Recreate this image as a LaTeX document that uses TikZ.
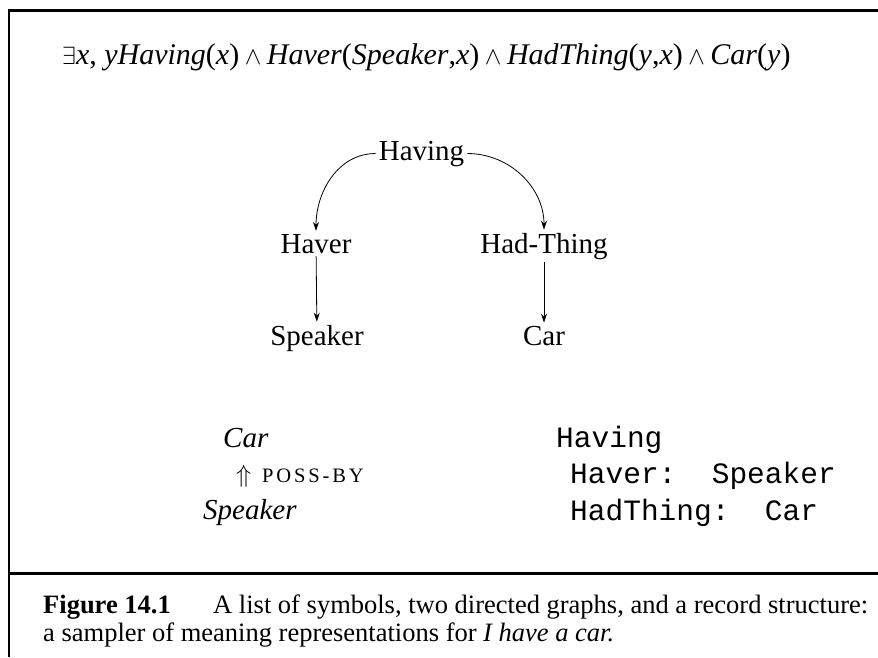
\documentclass[tikz,border=0pt]{standalone}
\usepackage{fontspec}
\setmainfont{Liberation Serif}
\setmonofont{Liberation Mono}
\usetikzlibrary{arrows.meta}
\newcommand{\gfont}{\fontsize{29}{35}\selectfont}
\newcommand{\folfont}{\fontsize{30}{36}\selectfont}
\newcommand{\capfont}{\fontsize{26.5}{30}\selectfont}
\newcommand{\recfont}{\fontsize{29.5}{34}\ttfamily\selectfont}
\newcommand{\andsym}{${}\wedge{}$}
\begin{document}
\begin{tikzpicture}[x=1pt,y=-1pt,
  gn/.style={font=\gfont, anchor=base, inner sep=3pt},
  txt/.style={font=\gfont, anchor=base west, inner sep=0pt},
  rec/.style={font=\recfont, anchor=base west, inner sep=0pt},
  captext/.style={font=\capfont, anchor=base west, inner sep=0pt},
  arr/.style={-{Stealth[length=9pt,width=6pt]}, line width=0.8pt},
  frame/.style={line width=2.4pt}]
\useasboundingbox (0,0) rectangle (878,657);
% frame
\draw[frame] (9,657) -- (9,10.3) -- (878,10.3);
\draw[frame] (9,573.3) -- (878,573.3);
% formula
\node[txt, font=\folfont] (fol) at (62,64) {$\exists$\textit{x}, \textit{yHaving}(\textit{x})\andsym\textit{Haver}(\textit{Speaker},\textit{x})\andsym\textit{HadThing}(\textit{y},\textit{x})\andsym\textit{Car}(\textit{y})};
% graph
\node[gn] (having) at (421.5,160) {Having};
\node[gn] (haver) at (316,253) {Haver};
\node[gn] (hadthing) at (544,253) {Had-Thing};
\node[gn] (speaker) at (317,345) {Speaker};
\node[gn] (car) at (544,345) {Car};
\draw[arr] (having.west) to[out=180,in=90] (haver.north);
\draw[arr] (having.east) to[out=0,in=90] (hadthing.north);
\draw[arr] (haver) -- (speaker);
\draw[arr] (hadthing) -- (car);
% second graph
\node[txt] (lcar) at (223,447) {\textit{Car}};
\node[txt] (uparr) at (236,482) {$\Uparrow$};
\node[txt, font=\fontsize{20.5}{25}\selectfont\addfontfeature{LetterSpace=14}] (possby) at (262,482) {POSS-BY};
\node[txt] (lspeaker) at (203,519) {\textit{Speaker}};
% record
\node[rec] (rhaving) at (556,447) {Having};
\node[rec] (rhaver) at (570,483) {Haver:\ \ Speaker};
\node[rec] (rhad) at (570,520) {HadThing:\ \ Car};
% caption
\node[captext] (fig) at (43,613) {\textbf{Figure 14.1}};
\node[captext] (cap1) at (213,613) {A list of symbols, two directed graphs, and a record structure:};
\node[captext] (cap2) at (43,641) {a sampler of meaning representations for \textit{I have a car.}};
\end{tikzpicture}
\end{document}
